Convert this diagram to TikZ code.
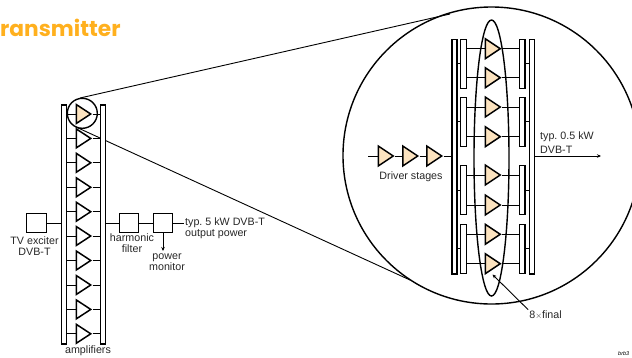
\documentclass[tikz,border=0pt]{standalone}
\usepackage{fontspec}
\setmainfont{Liberation Sans}
\newfontfamily\titlefont{Poppins}
\usetikzlibrary{shapes.geometric,arrows.meta,positioning,calc}
\definecolor{titleorange}{HTML}{FFB01E}
\definecolor{ampfill}{HTML}{FCE3BF}
\tikzset{
  amp/.style={isosceles triangle,isosceles triangle stretches,draw,line width=1.5pt,inner sep=0pt,
    minimum width=19pt,minimum height=14.5pt,anchor=west,fill=white},
  ampbig/.style={amp,minimum width=20pt,minimum height=15pt,fill=ampfill},
  bar/.style={draw,line width=1.5pt,inner sep=0pt,minimum width=5pt,anchor=north west,fill=white},
  thinbar/.style={draw,line width=1.1pt,inner sep=0pt,minimum width=5.4pt,anchor=north west,fill=white},
  blk/.style={draw,line width=1pt,inner sep=0pt,minimum width=19.5pt,minimum height=19.5pt},
  wire/.style={line width=0.9pt},
  lbl/.style={font=\fontsize{10.7}{12}\selectfont\frenchspacing,text=black!85,inner sep=0pt,align=center},
  tip/.style={-{Stealth[length=4pt,width=3.5pt]}}
}
\begin{document}
\begin{tikzpicture}[x=1pt,y=-1pt]
  \useasboundingbox (0,0) rectangle (632,357);
  \clip (0,0) rectangle (632,357);

  % Title
  \node[anchor=base west,inner sep=0pt,text=titleorange,font=\titlefont\bfseries\fontsize{21.7}{24}\selectfont] (title) at (0,36.5) {ransmitter};

  % Zoom circles and their tangents
  \node[circle,draw,line width=1.4pt,minimum size=297pt,inner sep=0pt] (bigc) at (491.5,155.5) {};
  \coordinate (tana) at (80,98);
  \coordinate (tanb) at (450,14);
  \coordinate (tanc) at (76,127);
  \coordinate (tand) at (410,280);
  \draw[wire] (tana) -- (tanb);
  \draw[wire] (tanc) -- (tand);

  % Left amplifier rack
  \node[bar,minimum height=239pt] (lbar) at (60.5,104) {};
  \node[bar,minimum height=239pt] (rbar) at (99.5,104) {};
  \foreach \n/\y in {1/114,2/138.4,3/162.8,4/187.3,5/211.7,6/236,7/260.5,8/285,9/309.4,10/333.8} {
    \ifnum\n=1
      \node[amp,fill=ampfill] (a\n) at (75.5,\y) {};
    \else
      \node[amp] (a\n) at (75.5,\y) {};
    \fi
    \draw[wire] (lbar.east |- a\n.west) -- (a\n.west);
    \draw[wire] (a\n.east) -- (rbar.west |- a\n.east);
  }
  \node[circle,draw,line width=1.4pt,minimum size=30pt,inner sep=0pt] (smallc) at (82.3,113.3) {};
  \node[lbl] (amps) at (88,350.5) {amplifiers};

  % Signal chain
  \node[blk] (exciter) at (36.7,223) {};
  \node[blk] (filter) at (128.8,223) {};
  \node[blk] (monitor) at (163,223) {};
  \coordinate (outp) at (184,223);
  \coordinate (mon) at (163,251);
  \draw[wire] (exciter) -- (lbar.west |- exciter);
  \draw[wire] (rbar.east |- filter) -- (filter);
  \draw[wire] (filter) -- (monitor);
  \draw[wire] (monitor) -- (outp);
  \draw[wire,tip] (monitor) -- (mon);
  \node[lbl] (exlbl) at (34.5,246) {TV exciter\\[-1pt]DVB-T};
  \node[lbl] (fillbl) at (132,243) {harmonic\\[-1pt]filter};
  \node[lbl] (monlbl) at (167,262) {power\\[-1pt]monitor};
  \node[lbl,anchor=west,align=left] (outlbl) at (185,228) {typ. 5 kW DVB-T\\[-1pt]output power};

  % Detail: outer bars
  \node[bar,minimum height=234.6pt] (lout) at (451,38.7) {};
  \node[bar,minimum height=234.6pt] (rout) at (528.5,38.7) {};

  % Detail: inner bars and final amplifiers
  \foreach \g/\y/\ya/\yb/\yl in {1/39/48.7/77.7/63.3,2/97.3/107/136.7/121.7,3/165/175/205/190,4/224/234.3/263.7/248.7} {
    \node[thinbar,minimum height=49pt] (lin\g) at (460.3,\y) {};
    \node[thinbar,minimum height=49pt] (rin\g) at (519,\y) {};
    \coordinate (lk\g) at (460,\yl);
    \draw[wire] (lout.east |- lk\g) -- (lin\g.west |- lk\g);
    \draw[wire] (rin\g.east |- lk\g) -- (rout.west |- lk\g);
    \node[ampbig] (fa\g) at (484.5,\ya) {};
    \node[ampbig] (fb\g) at (484.5,\yb) {};
    \draw[wire] (lin\g.east |- fa\g.west) -- (fa\g.west);
    \draw[wire] (fa\g.east) -- (rin\g.west |- fa\g.east);
    \draw[wire] (lin\g.east |- fb\g.west) -- (fb\g.west);
    \draw[wire] (fb\g.east) -- (rin\g.west |- fb\g.east);
  }

  % Ellipse round the finals
  \node[ellipse,draw,line width=1.4pt,minimum width=35pt,minimum height=276pt,inner sep=0pt] (finals) at (491.5,158) {};

  % Driver stages
  \coordinate (drvin) at (368,156);
  \node[ampbig] (d1) at (377.5,156) {};
  \node[ampbig] (d2) at (402,156) {};
  \node[ampbig] (d3) at (426,156) {};
  \draw[wire] (drvin) -- (d1.west);
  \draw[wire] (d1.east) -- (d2.west);
  \draw[wire] (d2.east) -- (d3.west);
  \draw[wire] (d3.east) -- (lout.west |- d3.east);
  \coordinate (outb) at (601,156);
  \draw[wire,tip] (rout.east |- outb) -- (outb);
  \node[lbl] (drvlbl) at (411,177) {Driver stages};
  \node[lbl,anchor=west,align=left] (bigout) at (540,142.5) {typ. 0.5 kW\\[1.5pt]DVB-T};

  % 8 x final
  \node[lbl] (finlbl) at (545.5,315) {8\raisebox{0.2pt}{\scalebox{0.8}{$\times$}}final};
  \coordinate (fintip) at (492.5,274.5);
  \draw[wire,tip] (finlbl.north west) ++(-1,-1) -- (fintip);

  \node[anchor=west,inner sep=0pt,font=\itshape\fontsize{5.5}{6}\selectfont] (ref) at (618,353.5) {brb3};
\end{tikzpicture}
\end{document}
